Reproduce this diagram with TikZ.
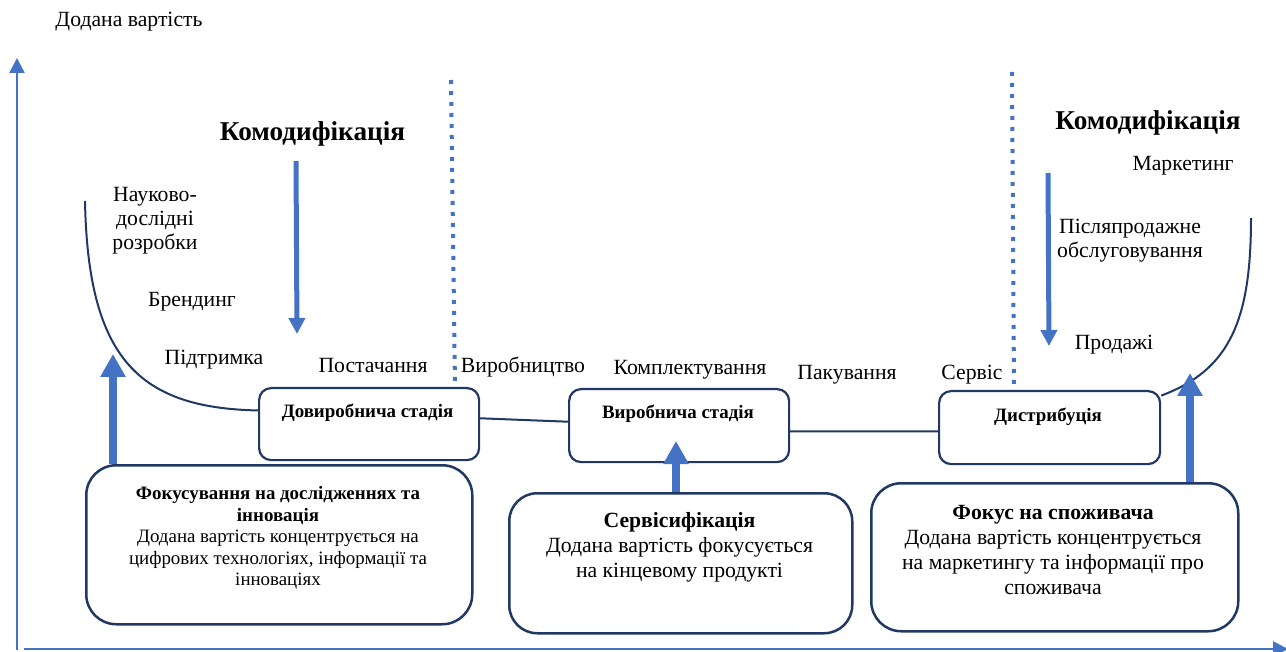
\documentclass[tikz,border=0pt]{standalone}
\usepackage{fontspec}
\setmainfont{Liberation Serif}
\usetikzlibrary{arrows.meta,calc}
\definecolor{axblue}{RGB}{68,114,196}
\definecolor{navy}{RGB}{31,56,100}
\begin{document}
\begin{tikzpicture}[x=1pt,y=-1pt,
  lbl/.style={font=\fontsize{21.7}{24}\selectfont, align=center, inner sep=0pt},
  komlbl/.style={font=\fontsize{27.2}{30}\selectfont\bfseries, inner sep=0pt},
  stagebox/.style={draw=navy, line width=2.2pt, rounded corners=12pt, fill=white, anchor=north west, inner sep=0pt},
  stagelbl/.style={font=\fontsize{18.9}{22}\selectfont\bfseries, inner sep=0pt},
  focusbox/.style={draw=navy, line width=2.5pt, rounded corners=30pt, fill=white, anchor=north west, inner sep=0pt},
  curveline/.style={draw=navy, line width=2pt},
  dotline/.style={draw=axblue, line width=4pt, dash pattern=on 4pt off 7pt},
  axis/.style={draw=axblue, line width=2.5pt, -{Triangle[width=15pt,length=15pt]}},
  downarrow/.style={draw=axblue, line width=5pt, -{Triangle[width=16pt,length=16pt]}},
  uparrow/.style={draw=axblue, line width=8pt, -{Triangle[width=24pt,length=23pt]}}
]
\useasboundingbox (0,0) rectangle (1286,652);

% axes
\coordinate (yb) at (17,650);
\coordinate (yt) at (17,58);
\coordinate (xl) at (24,649);
\coordinate (xr) at (1288,649);
\draw[axis] (yb) -- (yt);
\draw[axis] (xl) -- (xr);
\node[lbl] (yl) at (129,22) {Додана вартість};

% stage boxes
\node[stagebox, minimum width=220pt, minimum height=72pt] (dov) at (258,387) {};
\node[stagebox, minimum width=220pt, minimum height=73pt] (vyr) at (568,388) {};
\node[stagebox, minimum width=221pt, minimum height=73pt] (dist) at (938,390) {};
\node[stagelbl] (dovl) at (367.5,413) {Довиробнича стадія};
\node[stagelbl] (vyrl) at (678,414) {Виробнича стадія};
\node[stagelbl] (distl) at (1048,417) {Дистрибуція};

% smile curve
\coordinate (lc) at (85,201);
\coordinate (rc) at (1251,218);
\draw[curveline] (lc) .. controls (88,360) and (140,408) .. (dov.173);
\draw[curveline] (dov.3) -- (vyr.178);
\draw[curveline] (vyr.-3) -- (dist.182);
\draw[curveline] (dist.16) .. controls (1230,370) and (1251,320) .. (rc);

% dotted separators
\coordinate (d1) at (451,80);
\coordinate (d2) at (1012,72);
\draw[dotline] (d1) -- (455,0 |- dov.north);
\draw[dotline] (d2) -- (1014,0 |- dist.north);

% commodification arrows
\coordinate (k1s) at (296,161);
\coordinate (k1e) at (297,334);
\coordinate (k2s) at (1048,173);
\coordinate (k2e) at (1049,346);
\draw[downarrow] (k1s) -- (k1e);
\draw[downarrow] (k2s) -- (k2e);
\node[komlbl] (kom1) at (312.5,134) {Комодифікація};
\node[komlbl] (kom2) at (1148,123) {Комодифікація};

% activity labels
\node[lbl] (nd) at (155,221) {Науково-\\дослідні\\розробки};
\node[lbl] (br) at (192,302) {Брендинг};
\node[lbl] (pid) at (214,360) {Підтримка};
\node[lbl] (post) at (373,366) {Постачання};
\node[lbl] (vyrob) at (523,367) {Виробництво};
\node[lbl] (kompl) at (690,370) {Комплектування};
\node[lbl] (pak) at (847,375) {Пакування};
\node[lbl] (serv) at (972,375) {Сервіс};
\node[lbl] (prod) at (1114,345) {Продажі};
\node[lbl] (pisl) at (1130,241) {Післяпродажне\\обслуговування};
\node[lbl] (mark) at (1183,166) {Маркетинг};

% focus boxes
\node[focusbox, minimum width=386pt, minimum height=159pt] (lf) at (85,464) {};
\node[focusbox, minimum width=343pt, minimum height=140pt, rounded corners=28pt] (mf) at (508,492) {};
\node[focusbox, minimum width=367pt, minimum height=148pt] (rf) at (870,482) {};
\node[lbl, font=\fontsize{18.9}{21.5}\selectfont] (lft) at (278,538)
  {\textbf{Фокусування на дослідженнях та}\\\textbf{інновація}\\Додана вартість концентрується на\\цифрових технологіях, інформації та\\інноваціях};
\node[lbl, font=\fontsize{21.7}{25}\selectfont] (mft) at (679.5,547)
  {\textbf{Сервісифікація}\\Додана вартість фокусується\\на кінцевому продукті};
\node[lbl, font=\fontsize{21.7}{25}\selectfont] (rft) at (1053,550)
  {\textbf{Фокус на споживача}\\Додана вартість концентрується\\на маркетингу та інформації про\\споживача};

% up arrows
\coordinate (u1) at (113,354);
\coordinate (u2) at (676,441);
\coordinate (u3) at (1190,373);
\draw[uparrow] (113,0 |- lf.north) -- (u1);
\draw[uparrow] (676,0 |- mf.north) -- (u2);
\draw[uparrow] (1190,0 |- rf.north) -- (u3);
\end{tikzpicture}
\end{document}
